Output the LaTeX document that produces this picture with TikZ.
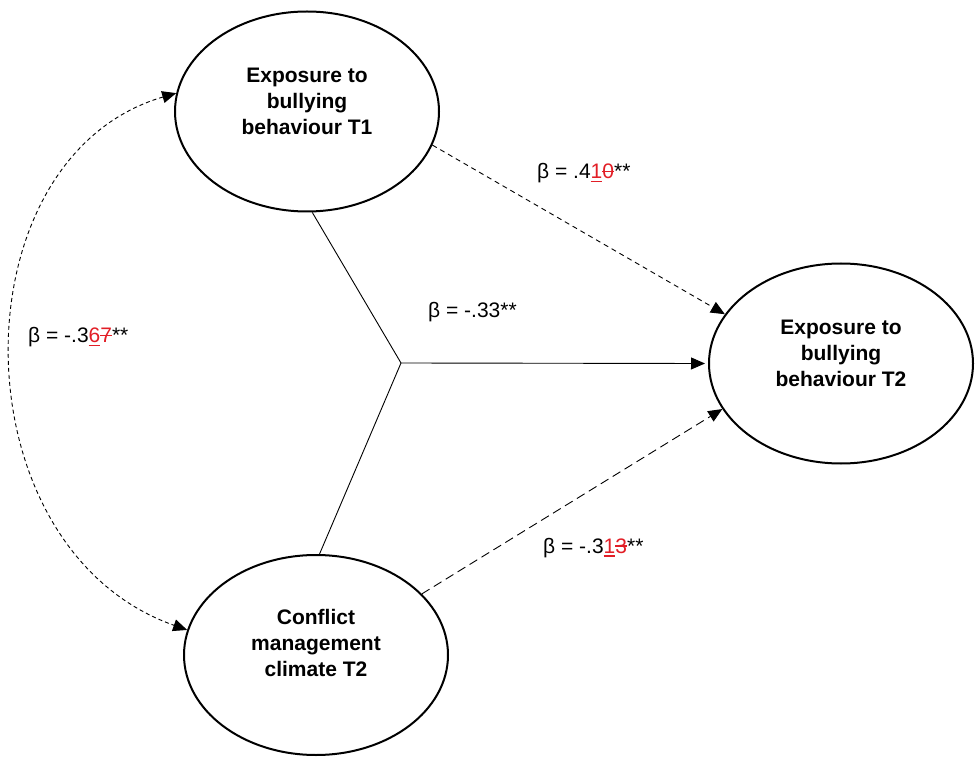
\documentclass[tikz,border=0pt]{standalone}
\usepackage{fontspec}
\setmainfont{Liberation Sans}
\usetikzlibrary{shapes.geometric,arrows.meta}
\definecolor{trackred}{RGB}{226,30,38}
\newcommand{\insd}[1]{\textcolor{trackred}{\setbox0\hbox{#1}\rlap{\rule[-3.5pt]{\wd0}{1.8pt}}\box0}}
\newcommand{\deld}[1]{\textcolor{trackred}{\setbox0\hbox{#1}\rlap{\rule[6.5pt]{\wd0}{1.3pt}}\box0}}
\begin{document}
\begin{tikzpicture}[x=1pt,y=-1pt,
  latent/.style={draw,ellipse,line width=2pt,minimum width=264pt,minimum height=200pt,inner sep=0pt},
  nodetext/.style={align=center,font=\fontsize{21}{26}\selectfont\bfseries},
  coef/.style={anchor=base west,inner sep=0pt,font=\fontsize{21}{26}\selectfont},
  tip/.style={-{Triangle[length=14pt,width=12pt]}},
  conn/.style={line width=0.9pt},
  shortdash/.style={dash pattern=on 5pt off 4pt},
  longdash/.style={dash pattern=on 9pt off 5pt}]
\useasboundingbox[fill=white] (0,0) rectangle (975,759);

\node[latent] (top) at (307,111.5) {};
\node[latent] (bot) at (316,655) {};
\node[latent] (right) at (841,363.5) {};

\node[nodetext] (toptxt) at ([yshift=10pt]top.center) {Exposure to\\bullying\\behaviour T1};
\node[nodetext] (bottxt) at ([yshift=12pt]bot.center) {Conflict\\management\\climate T2};
\node[nodetext] (righttxt) at ([yshift=10pt]right.center) {Exposure to\\bullying\\behaviour T2};

\coordinate (J) at (401,363);

\draw[conn] (top.-87) -- (J);
\draw[conn] (bot.88) -- (J);
\draw[conn,tip] (J) -- ([xshift=-3pt]right.180);

\draw[conn,shortdash,tip] (top.-15) -- (right.157);
\draw[conn,longdash,tip] (bot.30) -- (right.201);

\draw[conn,dash pattern=on 4pt off 3pt,{Triangle[length=14pt,width=12pt]}-{Triangle[length=14pt,width=12pt]}]
  (top.172) .. controls +(-222,65) and +(-232,-82) .. (bot.169);

\node[coef] (c1) at (537,179) {β = .4\insd{1}\deld{0}**};
\node[coef] (c2) at (428,318) {β = -.33**};
\node[coef] (c3) at (28,343) {β = -.3\insd{6}\deld{7}**};
\node[coef] (c4) at (543,553) {β = -.3\insd{1}\deld{3}**};
\end{tikzpicture}
\end{document}
